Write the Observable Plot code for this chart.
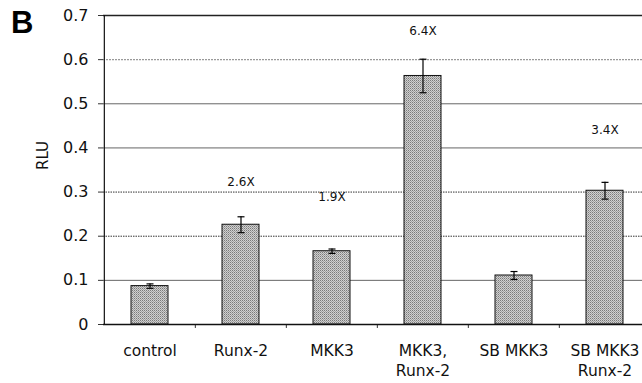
<!DOCTYPE html>
<html><head><meta charset="utf-8">
<script src="https://cdn.jsdelivr.net/npm/d3@7"></script>
<script src="https://cdn.jsdelivr.net/npm/@observablehq/plot@0.6"></script>
<style>
html,body{margin:0;padding:0;background:#fff;overflow:hidden;}
#chart{position:relative;width:642px;height:383px;}
#panel{position:absolute;left:11px;top:5px;font:bold 31px "Liberation Sans",Arial,sans-serif;color:#000;}
</style>
</head><body>
<div id="chart"><div id="panel">B</div></div>
<script>
const categories = ["control", "Runx-2", "MKK3", "MKK3,\nRunx-2", "SB MKK3", "SB MKK3\nRunx-2"];
const values = [0.087, 0.226, 0.166, 0.563, 0.111, 0.303];
const errors = [0.005, 0.018, 0.005, 0.038, 0.009, 0.019];
const foldLabels = ["", "2.6X", "1.9X", "6.4X", "", "3.4X"];
const foldLabelY = [null, 0.322, 0.288, 0.664, null, 0.44];
const yTicks = [0, 0.1, 0.2, 0.3, 0.4, 0.5, 0.6, 0.7];
const solidGrid = [0.1, 0.4, 0.5];
const dottedGrid = [0.2, 0.3];
const lightGrid = [0.6];

const data = categories.map((c, i) => ({cat: c, v: values[i], e: errors[i], lab: foldLabels[i], ly: foldLabelY[i]}));

const W = 642, H = 383, mL = 103, mR = -9, mT = 15, mB = 59;
const halfBand = (W - mL - mR) / categories.length / 2;
const font = "DejaVu Sans, Verdana, sans-serif";
const capSymbol = {draw(ctx, size) { const r = Math.sqrt(size / Math.PI); ctx.moveTo(-r, 0); ctx.lineTo(r, 0); }};

const plot = Plot.plot({
  width: W, height: H,
  marginLeft: mL, marginRight: mR, marginTop: mT, marginBottom: mB,
  style: {fontFamily: font, background: "white", overflow: "visible"},
  x: {domain: categories, paddingInner: 0.595, paddingOuter: 0.2975, label: null},
  y: {domain: [0, 0.7], label: null},
  marks: [
    Plot.ruleY(solidGrid, {stroke: "#666", strokeWidth: 1}),
    Plot.ruleY(dottedGrid, {stroke: "#333", strokeWidth: 1, strokeDasharray: "1.5,1"}),
    Plot.ruleY(lightGrid, {stroke: "#999", strokeWidth: 1.2, strokeDasharray: "2,1"}),
    Plot.ruleY([0.7], {stroke: "#222", strokeWidth: 1.5}),
    Plot.barY(data, {x: "cat", y: "v", fill: "url(#stipple)", stroke: "#111", strokeWidth: 1}),
    Plot.ruleX(data, {x: "cat", y1: d => d.v - d.e, y2: d => d.v + d.e, stroke: "#000", strokeWidth: 1.2}),
    Plot.dot(data, {x: "cat", y: d => d.v - d.e, symbol: capSymbol, r: 3.5, fill: "none", stroke: "#000", strokeWidth: 1.2}),
    Plot.dot(data, {x: "cat", y: d => d.v + d.e, symbol: capSymbol, r: 3.5, fill: "none", stroke: "#000", strokeWidth: 1.2}),
    Plot.text(data.filter(d => d.lab), {x: "cat", y: "ly", text: "lab", fontSize: 12, fill: "#111", fontFamily: font}),
    Plot.axisY({ticks: yTicks, tickFormat: d => d === 0 ? "0" : d.toFixed(1), tickSize: 5, tickPadding: 10, fontSize: 16, stroke: "#333", fill: "#111"}),
    Plot.ruleX([0], {x: () => categories[0], dx: -halfBand, y1: 0, y2: 0.7, stroke: "#111", strokeWidth: 1.2}),
    Plot.axisX({tickSize: 0, tickPadding: 18, fontSize: 15.5, fill: "#111", lineHeight: 1.25}),
    Plot.ruleX(categories.slice(1), {x: d => d, dx: -halfBand, y1: 0, y2: -0.009, clip: false, stroke: "#333"}),
    Plot.ruleY([0], {stroke: "#111", strokeWidth: 1.5}),
    Plot.text(["RLU"], {frameAnchor: "left", dx: -60, dy: 0, rotate: -90, fontSize: 15, fill: "#111", fontFamily: font})
  ]
});

// stipple pattern for bar fill
const ns = "http://www.w3.org/2000/svg";
const defs = document.createElementNS(ns, "defs");
defs.innerHTML = '<pattern id="stipple" width="2" height="2" patternUnits="userSpaceOnUse">' +
  '<rect width="2" height="2" fill="#d0d0d0"/>' +
  '<rect width="1" height="1" fill="#7a7a7a"/>' +
  '<rect x="1" y="1" width="1" height="1" fill="#a0a0a0"/></pattern>';
plot.insertBefore(defs, plot.firstChild);
document.getElementById("chart").appendChild(plot);
</script>
</body></html>
